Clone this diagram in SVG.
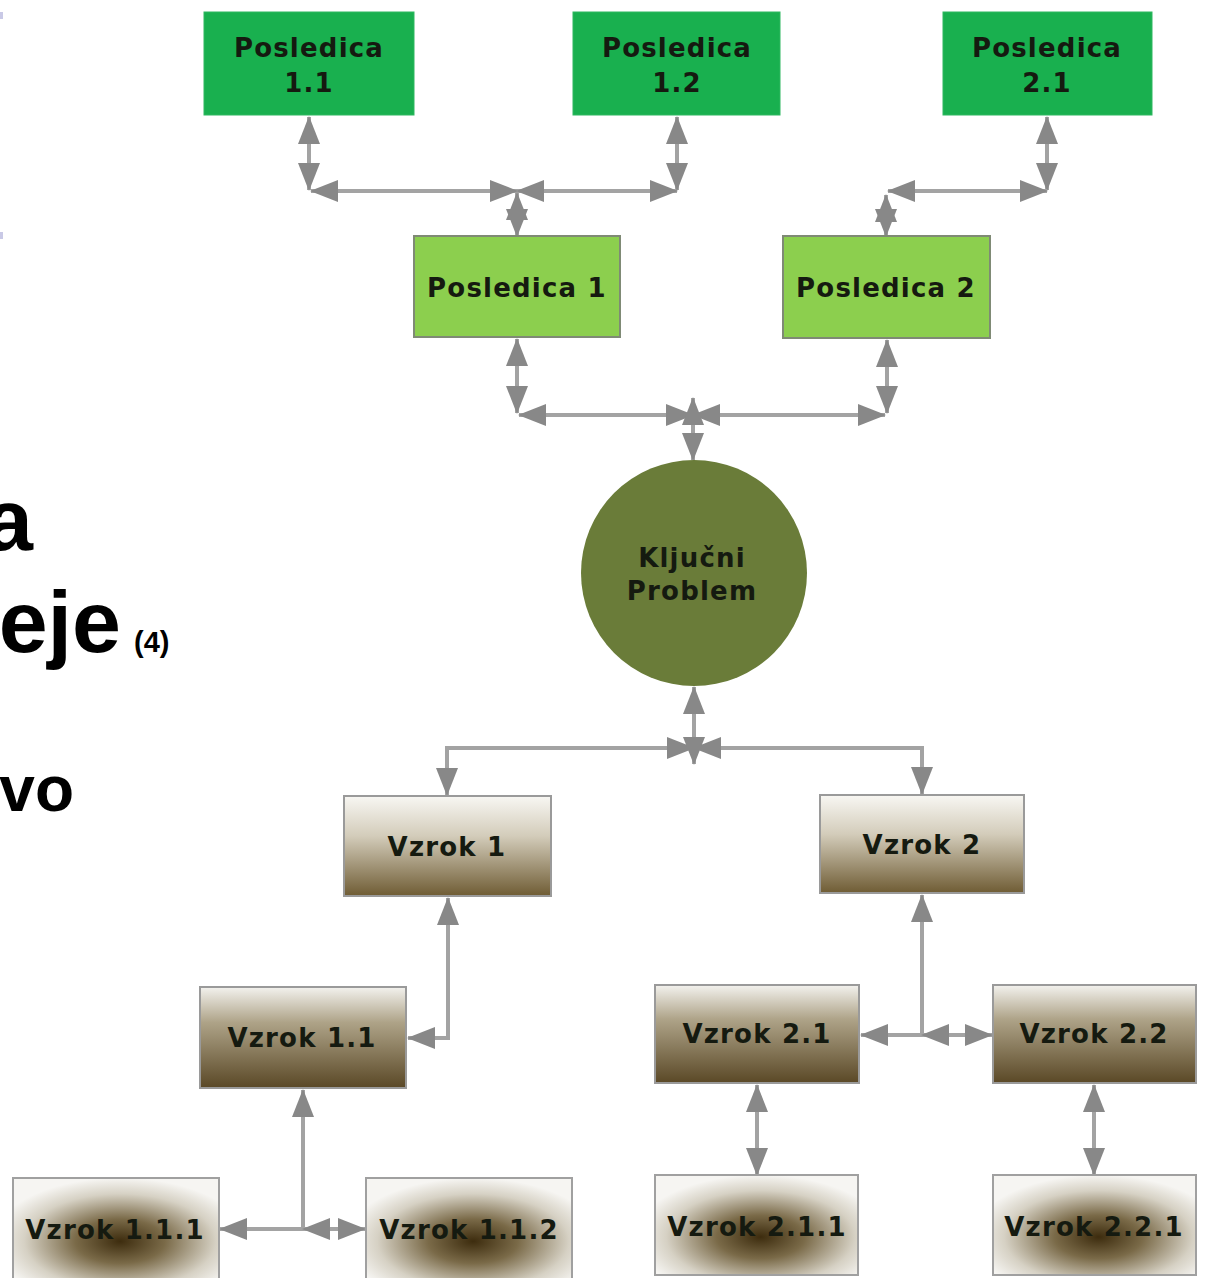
<svg xmlns="http://www.w3.org/2000/svg" width="1205" height="1278" viewBox="0 0 1205 1278">
<style>
.t{font-family:"DejaVu Sans","Verdana",sans-serif;font-weight:bold;font-size:26px;letter-spacing:1.2px;fill:#151a10;text-anchor:middle}
.big{font-family:"Liberation Sans",Arial,sans-serif;font-weight:bold;fill:#000}
.c{fill:none;stroke:#a3a3a3;stroke-width:4;marker-start:url(#ah);marker-end:url(#ah)}
.g1{fill:#19b04f;stroke:#2fb860;stroke-width:1}
.g2{fill:#8ccf4e;stroke:#7f8a75;stroke-width:2}
.v1{fill:url(#lin1);stroke:#9a9a9a;stroke-width:2}
.v2{fill:url(#lin2);stroke:#9a9a9a;stroke-width:2}
.v3{fill:url(#rad);stroke:#a0a0a0;stroke-width:2}
</style>
<defs>
<marker id="ah" markerUnits="userSpaceOnUse" markerWidth="28" markerHeight="22" refX="27" refY="11" orient="auto-start-reverse">
<path d="M0,0 L28,11 L0,22 z" fill="#888"/>
</marker>
<linearGradient id="lin1" x1="0" y1="0" x2="0" y2="1">
<stop offset="0" stop-color="#f8f7f3"/>
<stop offset="0.4" stop-color="#d3ccba"/>
<stop offset="1" stop-color="#6f5c34"/>
</linearGradient>
<linearGradient id="lin2" x1="0" y1="0" x2="0" y2="1">
<stop offset="0" stop-color="#f3f2ee"/>
<stop offset="0.35" stop-color="#aea388"/>
<stop offset="1" stop-color="#5a4826"/>
</linearGradient>
<radialGradient id="rad" cx="0.52" cy="0.62" r="0.62">
<stop offset="0" stop-color="#3d2c0e"/>
<stop offset="0.35" stop-color="#7a6a48"/>
<stop offset="0.75" stop-color="#d6d1c4"/>
<stop offset="1" stop-color="#f6f5f2"/>
</radialGradient>
</defs>
<rect width="1205" height="1278" fill="#fff"/>
<rect x="0" y="12" width="3" height="7" fill="#c9c9e6"/>
<rect x="0" y="232" width="3" height="7" fill="#c9c9e6"/>

<g id="side-text">
<text class="big" x="33" y="550" font-size="88" text-anchor="end">a</text>
<text class="big" x="121" y="652" font-size="88" text-anchor="end">eje</text>
<text class="big" x="134" y="652" font-size="29">(4)</text>
<text class="big" x="74" y="811" font-size="64" text-anchor="end">vo</text>
</g>

<g id="connectors">
<path class="c" d="M309,117 V190"/>
<path class="c" d="M311,191 H517"/>
<path class="c" d="M517,191 H677"/>
<path class="c" d="M677,190 V117"/>
<path class="c" d="M517,193 V236"/>
<path class="c" d="M1047,117 V190"/>
<path class="c" d="M888,191 H1047"/>
<path class="c" d="M886,195 V236"/>
<path class="c" d="M517,339 V413"/>
<path class="c" d="M519,415 H693"/>
<path class="c" d="M693,415 H885"/>
<path class="c" d="M887,340 V413"/>
<path class="c" d="M693,398 V460"/>
<path class="c" d="M694,748 H447 V795"/>
<path class="c" d="M694,748 H922 V794"/>
<path class="c" d="M694,687 V764"/>
<path class="c" d="M448,898 V1038 H408"/>
<path class="c" d="M303,1090 V1229 H220"/>
<path class="c" d="M303,1229 H365"/>
<path class="c" d="M922,895 V1035 H861"/>
<path class="c" d="M922,1035 H992"/>
<path class="c" d="M757,1085 V1175"/>
<path class="c" d="M1094,1085 V1175"/>
</g>

<g id="posledica-1-1"><rect class="g1" x="204" y="12" width="210" height="103"/><text class="t" x="309" y="57">Posledica</text><text class="t" x="309" y="92">1.1</text></g>
<g id="posledica-1-2"><rect class="g1" x="573" y="12" width="207" height="103"/><text class="t" x="677" y="57">Posledica</text><text class="t" x="677" y="92">1.2</text></g>
<g id="posledica-2-1"><rect class="g1" x="943" y="12" width="209" height="103"/><text class="t" x="1047" y="57">Posledica</text><text class="t" x="1047" y="92">2.1</text></g>

<g id="posledica-1"><rect class="g2" x="414" y="236" width="206" height="101"/><text class="t" x="517" y="297">Posledica 1</text></g>
<g id="posledica-2"><rect class="g2" x="783" y="236" width="207" height="102"/><text class="t" x="886" y="297">Posledica 2</text></g>

<g id="kljucni-problem"><circle cx="694" cy="573" r="113" fill="#6a7c39"/><text class="t" x="692" y="567">Ključni</text><text class="t" x="692" y="600">Problem</text></g>

<g id="vzrok-1"><rect class="v1" x="344" y="796" width="207" height="100"/><text class="t" x="447" y="856">Vzrok 1</text></g>
<g id="vzrok-2"><rect class="v1" x="820" y="795" width="204" height="98"/><text class="t" x="922" y="854">Vzrok 2</text></g>

<g id="vzrok-1-1"><rect class="v2" x="200" y="987" width="206" height="101"/><text class="t" x="302" y="1047">Vzrok 1.1</text></g>
<g id="vzrok-2-1"><rect class="v2" x="655" y="985" width="204" height="98"/><text class="t" x="757" y="1043">Vzrok 2.1</text></g>
<g id="vzrok-2-2"><rect class="v2" x="993" y="985" width="203" height="98"/><text class="t" x="1094" y="1043">Vzrok 2.2</text></g>

<g id="vzrok-1-1-1"><rect class="v3" x="13" y="1178" width="206" height="102"/><text class="t" x="115" y="1239">Vzrok 1.1.1</text></g>
<g id="vzrok-1-1-2"><rect class="v3" x="366" y="1178" width="206" height="102"/><text class="t" x="469" y="1239">Vzrok 1.1.2</text></g>
<g id="vzrok-2-1-1"><rect class="v3" x="655" y="1175" width="203" height="100"/><text class="t" x="757" y="1236">Vzrok 2.1.1</text></g>
<g id="vzrok-2-2-1"><rect class="v3" x="993" y="1175" width="203" height="100"/><text class="t" x="1094" y="1236">Vzrok 2.2.1</text></g>
</svg>
